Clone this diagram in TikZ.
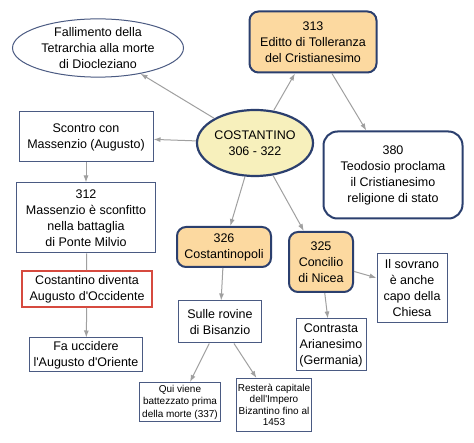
\documentclass[tikz,border=0pt]{standalone}
\usepackage{fontspec}
\setmainfont{Liberation Sans}[Ligatures=TeXOff]
\usetikzlibrary{arrows.meta,shapes.geometric}
\definecolor{navy}{HTML}{2B3F6E}
\definecolor{thinb}{HTML}{4A5A82}
\definecolor{orfill}{HTML}{FCD9A0}
\definecolor{yefill}{HTML}{F7F0BC}
\definecolor{redb}{HTML}{D64A3F}
\definecolor{arrg}{HTML}{A0A0A0}
\tikzset{
  base/.style={align=center,inner sep=1pt,font=\fontsize{12.5}{16}\selectfont},
  plainbox/.style={base,draw=thinb,line width=1pt,fill=white},
  smallbox/.style={plainbox,font=\fontsize{10}{12.5}\selectfont},
  keybox/.style={base,draw=navy,line width=2pt,fill=orfill,rounded corners=9pt},
  whitekey/.style={base,draw=navy,line width=2pt,fill=white,rounded corners=14pt},
  redbox/.style={base,draw=redb,line width=1.6pt,fill=white},
  conn/.style={draw=arrg,line width=1pt,-{Latex[length=7pt,width=5pt]}},
  plainconn/.style={draw=arrg,line width=1pt}
}
\begin{document}
\begin{tikzpicture}[x=1pt,y=-1pt]
\useasboundingbox (0,0) rectangle (474,443);
\fill[white] (0,0) rectangle (474,443);
\node[base,ellipse,draw=thinb,line width=1pt,minimum width=171pt,minimum height=58pt,inner sep=0pt] (fall) at (98,48) {Fallimento della\\Tetrarchia alla morte\\di Diocleziano};
\node[keybox,minimum width=127pt,minimum height=61pt] (edit) at (313,42) {313\\Editto di Tolleranza\\del Cristianesimo};
\node[base,ellipse,draw=navy,line width=2.2pt,fill=yefill,minimum width=116pt,minimum height=66pt,inner sep=0pt] (cost) at (255,143) {COSTANTINO\\306 - 322};
\node[whitekey,minimum width=139pt,minimum height=87pt] (teo) at (393,175) {380\\Teodosio proclama\\il Cristianesimo\\religione di stato};
\node[plainbox,minimum width=134pt,minimum height=50pt] (scon) at (86,137) {Scontro con\\Massenzio (Augusto)};
\node[plainbox,minimum width=139pt,minimum height=70pt] (mass) at (86,218) {312\\Massenzio è sconfitto\\nella battaglia\\di Ponte Milvio};
\node[redbox,minimum width=130pt,minimum height=36pt] (aug) at (87,289) {Costantino diventa\\Augusto d'Occidente};
\node[plainbox,minimum width=113pt,minimum height=34pt] (ucc) at (86,355) {Fa uccidere\\l'Augusto d'Oriente};
\node[keybox,minimum width=94pt,minimum height=40pt] (cpoli) at (224,247) {326\\Costantinopoli};
\node[keybox,minimum width=64pt,minimum height=60pt] (nicea) at (321,262) {325\\Concilio\\di Nicea};
\node[plainbox,minimum width=70pt,minimum height=69pt] (sovr) at (412,288) {Il sovrano\\è anche\\capo della\\Chiesa};
\node[plainbox,minimum width=83pt,minimum height=42pt] (rov) at (220,322) {Sulle rovine\\di Bisanzio};
\node[plainbox,minimum width=70pt,minimum height=52pt] (arian) at (331,345) {Contrasta\\Arianesimo\\(Germania)};
\node[smallbox,minimum width=81pt,minimum height=39pt] (batt) at (180,402) {Qui viene\\battezzato prima\\della morte (337)};
\node[smallbox,minimum width=75pt,minimum height=53pt,font=\fontsize{10}{11.5}\selectfont] (rest) at (274,405) {Resterà capitale\\dell'Impero\\Bizantino fino al\\1453};
\draw[conn] (cost) -- (fall);
\draw[conn] (cost) -- (edit);
\draw[conn] (edit) -- (teo);
\draw[conn] (cost) -- (scon);
\draw[conn] (scon) -- (mass);
\draw[plainconn] (mass) -- (aug);
\draw[conn] (aug) -- (ucc);
\draw[conn] (cost) -- (cpoli);
\draw[conn] (cost) -- (nicea);
\draw[conn] (cpoli) -- (rov);
\draw[conn] (rov) -- (batt);
\draw[conn] (rov) -- (rest);
\draw[conn] (nicea) -- (sovr);
\draw[conn] (nicea) -- (arian);
\end{tikzpicture}
\end{document}
